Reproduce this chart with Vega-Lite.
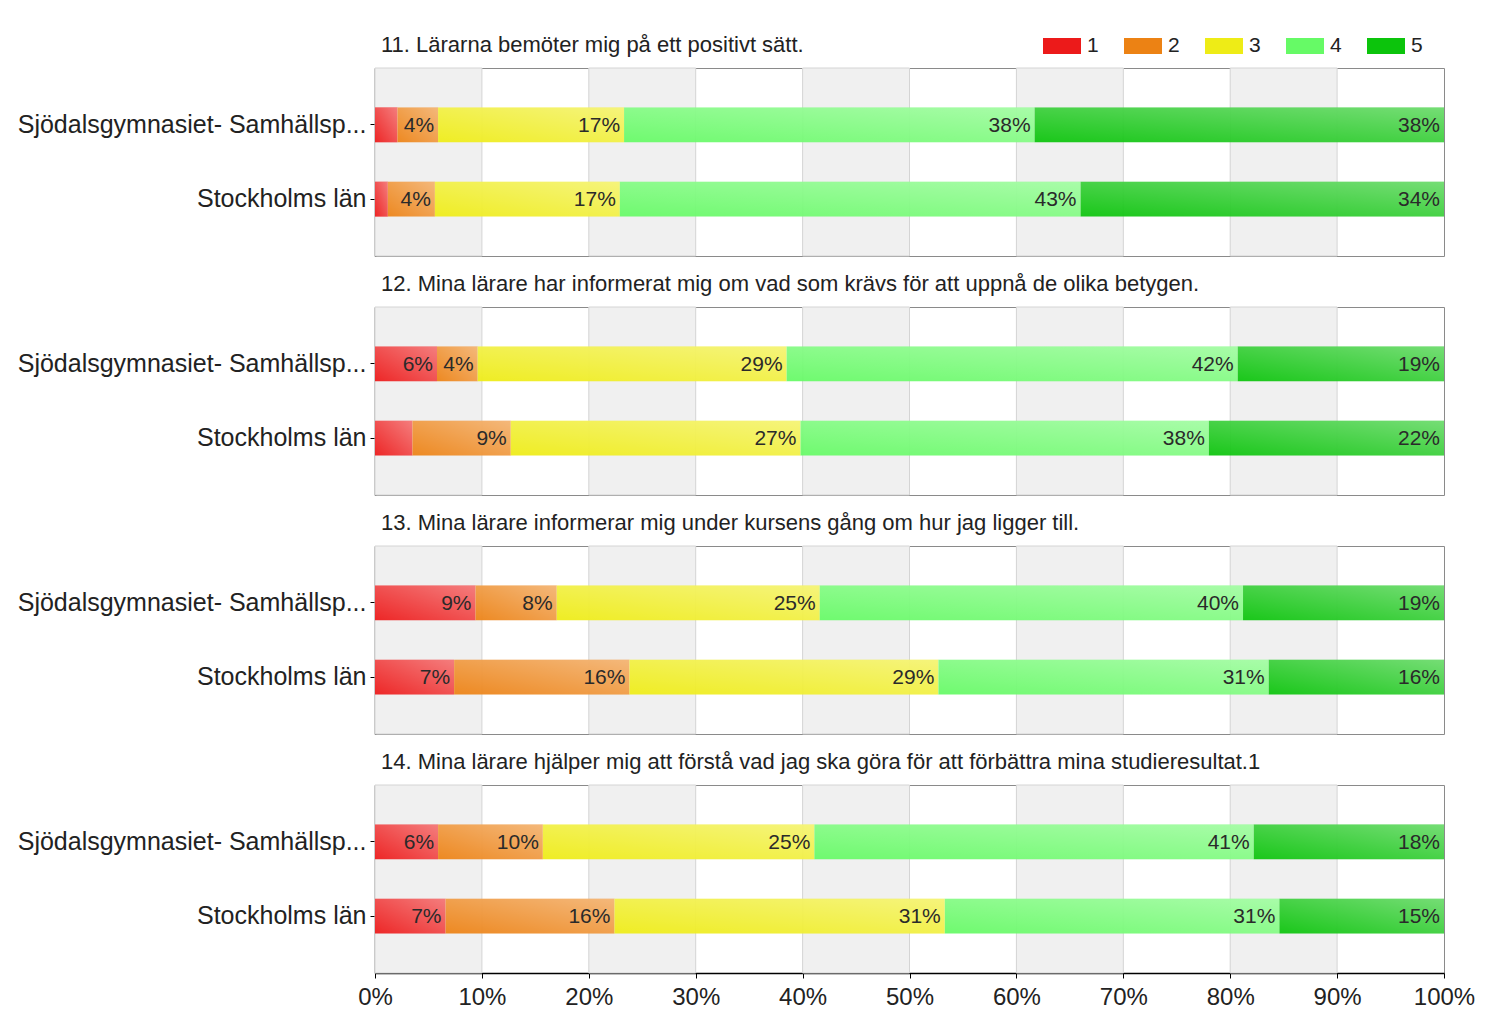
{
  "$schema": "https://vega.github.io/schema/vega-lite/v6.json",
  "background": "white",
  "padding": {"left": 16, "top": 27, "right": 40, "bottom": 10},
  "spacing": 15,
  "config": {
    "font": "Liberation Sans",
    "view": {"stroke": "#8a8a8a", "strokeWidth": 1},
    "title": {"anchor": "start", "frame": "group", "fontSize": 22, "fontWeight": "normal", "color": "#222222", "font": "Liberation Sans", "offset": 11, "dx": 6}
  },
  "datasets": {
    "bands": [
      {"b0": 0, "b1": 0.1}, {"b0": 0.2, "b1": 0.3}, {"b0": 0.4, "b1": 0.5}, {"b0": 0.6, "b1": 0.7}, {"b0": 0.8, "b1": 0.9}
    ],
    "survey": [
      {"q": "11", "group": "Sjödalsgymnasiet- Samhällsp...", "cat": "1", "value": 0.021},
      {"q": "11", "group": "Sjödalsgymnasiet- Samhällsp...", "cat": "2", "value": 0.038},
      {"q": "11", "group": "Sjödalsgymnasiet- Samhällsp...", "cat": "3", "value": 0.174},
      {"q": "11", "group": "Sjödalsgymnasiet- Samhällsp...", "cat": "4", "value": 0.384},
      {"q": "11", "group": "Sjödalsgymnasiet- Samhällsp...", "cat": "5", "value": 0.383},
      {"q": "11", "group": "Stockholms län", "cat": "1", "value": 0.012},
      {"q": "11", "group": "Stockholms län", "cat": "2", "value": 0.044},
      {"q": "11", "group": "Stockholms län", "cat": "3", "value": 0.173},
      {"q": "11", "group": "Stockholms län", "cat": "4", "value": 0.431},
      {"q": "11", "group": "Stockholms län", "cat": "5", "value": 0.340},
      {"q": "12", "group": "Sjödalsgymnasiet- Samhällsp...", "cat": "1", "value": 0.058},
      {"q": "12", "group": "Sjödalsgymnasiet- Samhällsp...", "cat": "2", "value": 0.038},
      {"q": "12", "group": "Sjödalsgymnasiet- Samhällsp...", "cat": "3", "value": 0.289},
      {"q": "12", "group": "Sjödalsgymnasiet- Samhällsp...", "cat": "4", "value": 0.422},
      {"q": "12", "group": "Sjödalsgymnasiet- Samhällsp...", "cat": "5", "value": 0.193},
      {"q": "12", "group": "Stockholms län", "cat": "1", "value": 0.035},
      {"q": "12", "group": "Stockholms län", "cat": "2", "value": 0.092},
      {"q": "12", "group": "Stockholms län", "cat": "3", "value": 0.271},
      {"q": "12", "group": "Stockholms län", "cat": "4", "value": 0.382},
      {"q": "12", "group": "Stockholms län", "cat": "5", "value": 0.220},
      {"q": "13", "group": "Sjödalsgymnasiet- Samhällsp...", "cat": "1", "value": 0.094},
      {"q": "13", "group": "Sjödalsgymnasiet- Samhällsp...", "cat": "2", "value": 0.076},
      {"q": "13", "group": "Sjödalsgymnasiet- Samhällsp...", "cat": "3", "value": 0.246},
      {"q": "13", "group": "Sjödalsgymnasiet- Samhällsp...", "cat": "4", "value": 0.396},
      {"q": "13", "group": "Sjödalsgymnasiet- Samhällsp...", "cat": "5", "value": 0.188},
      {"q": "13", "group": "Stockholms län", "cat": "1", "value": 0.074},
      {"q": "13", "group": "Stockholms län", "cat": "2", "value": 0.164},
      {"q": "13", "group": "Stockholms län", "cat": "3", "value": 0.289},
      {"q": "13", "group": "Stockholms län", "cat": "4", "value": 0.309},
      {"q": "13", "group": "Stockholms län", "cat": "5", "value": 0.164},
      {"q": "14", "group": "Sjödalsgymnasiet- Samhällsp...", "cat": "1", "value": 0.059},
      {"q": "14", "group": "Sjödalsgymnasiet- Samhällsp...", "cat": "2", "value": 0.098},
      {"q": "14", "group": "Sjödalsgymnasiet- Samhällsp...", "cat": "3", "value": 0.254},
      {"q": "14", "group": "Sjödalsgymnasiet- Samhällsp...", "cat": "4", "value": 0.411},
      {"q": "14", "group": "Sjödalsgymnasiet- Samhällsp...", "cat": "5", "value": 0.178},
      {"q": "14", "group": "Stockholms län", "cat": "1", "value": 0.066},
      {"q": "14", "group": "Stockholms län", "cat": "2", "value": 0.158},
      {"q": "14", "group": "Stockholms län", "cat": "3", "value": 0.309},
      {"q": "14", "group": "Stockholms län", "cat": "4", "value": 0.313},
      {"q": "14", "group": "Stockholms län", "cat": "5", "value": 0.154}
    ]
  },
  "vconcat": [
    {
      "width": 1069, "height": 188,
      "title": {"text": "11. Lärarna bemöter mig på ett positivt sätt."},
      "layer": [
        {"data": {"name": "bands"}, "mark": {"type": "rect", "fill": "#f0f0f0", "stroke": "#d4d4d4", "strokeWidth": 1},
         "encoding": {"x": {"field": "b0", "type": "quantitative", "title": null, "scale": {"domain": [0, 1], "nice": false}, "axis": {"labels": false, "ticks": false, "domain": false, "grid": false}}, "x2": {"field": "b1"}}},
        {"data": {"name": "survey"}, "transform": [{"filter": "datum.q == '11'"}, {"stack": "value", "groupby": ["group"], "sort": [{"field": "cat"}], "as": ["x0", "x1"]}],
         "layer": [
           {"mark": {"type": "bar", "opacity": 0.94},
            "encoding": {
              "y": {"field": "group", "type": "nominal", "title": null, "sort": ["Sjödalsgymnasiet- Samhällsp...", "Stockholms län"], "scale": {"paddingInner": 0.53, "paddingOuter": 0.53},
                    "axis": {"labelFontSize": 25, "labelColor": "#222222", "labelLimit": 400, "labelPadding": 4, "tickSize": 5, "tickColor": "#000000", "domainColor": "#000000", "domainWidth": 1.5}},
              "x": {"field": "x0", "type": "quantitative", "title": null}, "x2": {"field": "x1"},
              "color": {"field": "cat", "type": "nominal", "scale": {"domain": ["1", "2", "3", "4", "5"], "range": ["#ec1a1a", "#ec8214", "#eeec16", "#66fa66", "#0cc40c"]},
                        "legend": {"title": null, "orient": "none", "direction": "horizontal", "legendX": 668, "legendY": -41, "symbolType": "M-1,-0.42H1V0.42H-1Z", "symbolSize": 1444, "symbolStrokeWidth": 0, "symbolOpacity": 1, "labelFontSize": 21, "labelColor": "#222222", "labelOffset": 6, "columnPadding": 25}}
            }},
           {"mark": {"type": "bar", "fill": {"gradient": "linear", "x1": 0, "y1": 1, "x2": 1, "y2": 0, "stops": [{"offset": 0, "color": "rgba(255,255,255,0)"}, {"offset": 1, "color": "rgba(255,255,255,0.4)"}]}},
            "encoding": {"y": {"field": "group", "type": "nominal", "title": null, "sort": ["Sjödalsgymnasiet- Samhällsp...", "Stockholms län"]}, "x": {"field": "x0", "type": "quantitative", "title": null}, "x2": {"field": "x1"}}},
           {"transform": [{"filter": "datum.value >= 0.036"}],
            "mark": {"type": "text", "align": "right", "baseline": "middle", "dx": -4, "dy": 1, "fontSize": 21, "color": "#2a2a2a"},
            "encoding": {"y": {"field": "group", "type": "nominal", "title": null, "sort": ["Sjödalsgymnasiet- Samhällsp...", "Stockholms län"]}, "x": {"field": "x1", "type": "quantitative", "title": null}, "text": {"field": "value", "type": "quantitative", "format": ".0%"}}}
         ]}
      ]
    },
    {
      "width": 1069, "height": 188,
      "title": {"text": "12. Mina lärare har informerat mig om vad som krävs för att uppnå de olika betygen."},
      "layer": [
        {"data": {"name": "bands"}, "mark": {"type": "rect", "fill": "#f0f0f0", "stroke": "#d4d4d4", "strokeWidth": 1},
         "encoding": {"x": {"field": "b0", "type": "quantitative", "title": null, "scale": {"domain": [0, 1], "nice": false}, "axis": {"labels": false, "ticks": false, "domain": false, "grid": false}}, "x2": {"field": "b1"}}},
        {"data": {"name": "survey"}, "transform": [{"filter": "datum.q == '12'"}, {"stack": "value", "groupby": ["group"], "sort": [{"field": "cat"}], "as": ["x0", "x1"]}],
         "layer": [
           {"mark": {"type": "bar", "opacity": 0.94},
            "encoding": {
              "y": {"field": "group", "type": "nominal", "title": null, "sort": ["Sjödalsgymnasiet- Samhällsp...", "Stockholms län"], "scale": {"paddingInner": 0.53, "paddingOuter": 0.53},
                    "axis": {"labelFontSize": 25, "labelColor": "#222222", "labelLimit": 400, "labelPadding": 4, "tickSize": 5, "tickColor": "#000000", "domainColor": "#000000", "domainWidth": 1.5}},
              "x": {"field": "x0", "type": "quantitative", "title": null}, "x2": {"field": "x1"},
              "color": {"field": "cat", "type": "nominal", "scale": {"domain": ["1", "2", "3", "4", "5"], "range": ["#ec1a1a", "#ec8214", "#eeec16", "#66fa66", "#0cc40c"]},
                        "legend": {"title": null, "orient": "none", "direction": "horizontal", "legendX": 668, "legendY": -41, "symbolType": "M-1,-0.42H1V0.42H-1Z", "symbolSize": 1444, "symbolStrokeWidth": 0, "symbolOpacity": 1, "labelFontSize": 21, "labelColor": "#222222", "labelOffset": 6, "columnPadding": 25}}
            }},
           {"mark": {"type": "bar", "fill": {"gradient": "linear", "x1": 0, "y1": 1, "x2": 1, "y2": 0, "stops": [{"offset": 0, "color": "rgba(255,255,255,0)"}, {"offset": 1, "color": "rgba(255,255,255,0.4)"}]}},
            "encoding": {"y": {"field": "group", "type": "nominal", "title": null, "sort": ["Sjödalsgymnasiet- Samhällsp...", "Stockholms län"]}, "x": {"field": "x0", "type": "quantitative", "title": null}, "x2": {"field": "x1"}}},
           {"transform": [{"filter": "datum.value >= 0.036"}],
            "mark": {"type": "text", "align": "right", "baseline": "middle", "dx": -4, "dy": 1, "fontSize": 21, "color": "#2a2a2a"},
            "encoding": {"y": {"field": "group", "type": "nominal", "title": null, "sort": ["Sjödalsgymnasiet- Samhällsp...", "Stockholms län"]}, "x": {"field": "x1", "type": "quantitative", "title": null}, "text": {"field": "value", "type": "quantitative", "format": ".0%"}}}
         ]}
      ]
    },
    {
      "width": 1069, "height": 188,
      "title": {"text": "13. Mina lärare informerar mig under kursens gång om hur jag ligger till."},
      "layer": [
        {"data": {"name": "bands"}, "mark": {"type": "rect", "fill": "#f0f0f0", "stroke": "#d4d4d4", "strokeWidth": 1},
         "encoding": {"x": {"field": "b0", "type": "quantitative", "title": null, "scale": {"domain": [0, 1], "nice": false}, "axis": {"labels": false, "ticks": false, "domain": false, "grid": false}}, "x2": {"field": "b1"}}},
        {"data": {"name": "survey"}, "transform": [{"filter": "datum.q == '13'"}, {"stack": "value", "groupby": ["group"], "sort": [{"field": "cat"}], "as": ["x0", "x1"]}],
         "layer": [
           {"mark": {"type": "bar", "opacity": 0.94},
            "encoding": {
              "y": {"field": "group", "type": "nominal", "title": null, "sort": ["Sjödalsgymnasiet- Samhällsp...", "Stockholms län"], "scale": {"paddingInner": 0.53, "paddingOuter": 0.53},
                    "axis": {"labelFontSize": 25, "labelColor": "#222222", "labelLimit": 400, "labelPadding": 4, "tickSize": 5, "tickColor": "#000000", "domainColor": "#000000", "domainWidth": 1.5}},
              "x": {"field": "x0", "type": "quantitative", "title": null}, "x2": {"field": "x1"},
              "color": {"field": "cat", "type": "nominal", "scale": {"domain": ["1", "2", "3", "4", "5"], "range": ["#ec1a1a", "#ec8214", "#eeec16", "#66fa66", "#0cc40c"]},
                        "legend": {"title": null, "orient": "none", "direction": "horizontal", "legendX": 668, "legendY": -41, "symbolType": "M-1,-0.42H1V0.42H-1Z", "symbolSize": 1444, "symbolStrokeWidth": 0, "symbolOpacity": 1, "labelFontSize": 21, "labelColor": "#222222", "labelOffset": 6, "columnPadding": 25}}
            }},
           {"mark": {"type": "bar", "fill": {"gradient": "linear", "x1": 0, "y1": 1, "x2": 1, "y2": 0, "stops": [{"offset": 0, "color": "rgba(255,255,255,0)"}, {"offset": 1, "color": "rgba(255,255,255,0.4)"}]}},
            "encoding": {"y": {"field": "group", "type": "nominal", "title": null, "sort": ["Sjödalsgymnasiet- Samhällsp...", "Stockholms län"]}, "x": {"field": "x0", "type": "quantitative", "title": null}, "x2": {"field": "x1"}}},
           {"transform": [{"filter": "datum.value >= 0.036"}],
            "mark": {"type": "text", "align": "right", "baseline": "middle", "dx": -4, "dy": 1, "fontSize": 21, "color": "#2a2a2a"},
            "encoding": {"y": {"field": "group", "type": "nominal", "title": null, "sort": ["Sjödalsgymnasiet- Samhällsp...", "Stockholms län"]}, "x": {"field": "x1", "type": "quantitative", "title": null}, "text": {"field": "value", "type": "quantitative", "format": ".0%"}}}
         ]}
      ]
    },
    {
      "width": 1069, "height": 188,
      "title": {"text": "14. Mina lärare hjälper mig att förstå vad jag ska göra för att förbättra mina studieresultat.1"},
      "layer": [
        {"data": {"name": "bands"}, "mark": {"type": "rect", "fill": "#f0f0f0", "stroke": "#d4d4d4", "strokeWidth": 1},
         "encoding": {"x": {"field": "b0", "type": "quantitative", "title": null, "scale": {"domain": [0, 1], "nice": false}, "axis": {"format": ".0%", "tickCount": 10, "labelFontSize": 24, "labelColor": "#222222", "labelPadding": 7, "tickSize": 5, "tickColor": "#000000", "domainColor": "#000000", "domainWidth": 1.5, "grid": false, "labelFlush": false}}, "x2": {"field": "b1"}}},
        {"data": {"name": "survey"}, "transform": [{"filter": "datum.q == '14'"}, {"stack": "value", "groupby": ["group"], "sort": [{"field": "cat"}], "as": ["x0", "x1"]}],
         "layer": [
           {"mark": {"type": "bar", "opacity": 0.94},
            "encoding": {
              "y": {"field": "group", "type": "nominal", "title": null, "sort": ["Sjödalsgymnasiet- Samhällsp...", "Stockholms län"], "scale": {"paddingInner": 0.53, "paddingOuter": 0.53},
                    "axis": {"labelFontSize": 25, "labelColor": "#222222", "labelLimit": 400, "labelPadding": 4, "tickSize": 5, "tickColor": "#000000", "domainColor": "#000000", "domainWidth": 1.5}},
              "x": {"field": "x0", "type": "quantitative", "title": null}, "x2": {"field": "x1"},
              "color": {"field": "cat", "type": "nominal", "scale": {"domain": ["1", "2", "3", "4", "5"], "range": ["#ec1a1a", "#ec8214", "#eeec16", "#66fa66", "#0cc40c"]},
                        "legend": {"title": null, "orient": "none", "direction": "horizontal", "legendX": 668, "legendY": -41, "symbolType": "M-1,-0.42H1V0.42H-1Z", "symbolSize": 1444, "symbolStrokeWidth": 0, "symbolOpacity": 1, "labelFontSize": 21, "labelColor": "#222222", "labelOffset": 6, "columnPadding": 25}}
            }},
           {"mark": {"type": "bar", "fill": {"gradient": "linear", "x1": 0, "y1": 1, "x2": 1, "y2": 0, "stops": [{"offset": 0, "color": "rgba(255,255,255,0)"}, {"offset": 1, "color": "rgba(255,255,255,0.4)"}]}},
            "encoding": {"y": {"field": "group", "type": "nominal", "title": null, "sort": ["Sjödalsgymnasiet- Samhällsp...", "Stockholms län"]}, "x": {"field": "x0", "type": "quantitative", "title": null}, "x2": {"field": "x1"}}},
           {"transform": [{"filter": "datum.value >= 0.036"}],
            "mark": {"type": "text", "align": "right", "baseline": "middle", "dx": -4, "dy": 1, "fontSize": 21, "color": "#2a2a2a"},
            "encoding": {"y": {"field": "group", "type": "nominal", "title": null, "sort": ["Sjödalsgymnasiet- Samhällsp...", "Stockholms län"]}, "x": {"field": "x1", "type": "quantitative", "title": null}, "text": {"field": "value", "type": "quantitative", "format": ".0%"}}}
         ]}
      ]
    }
  ]
}
